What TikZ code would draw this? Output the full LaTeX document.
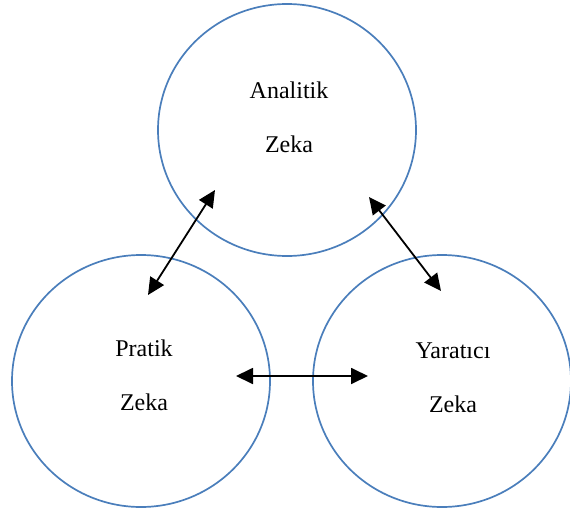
\documentclass[tikz,border=0pt]{standalone}
\usepackage{fontspec}
\setmainfont{Liberation Serif}
\usetikzlibrary{arrows.meta,shapes.geometric}
\definecolor{ringblue}{HTML}{4A7EBB}
\tikzset{
  ring/.style={draw=ringblue, line width=1.7pt, ellipse, minimum width=258pt, minimum height=252pt, inner sep=0pt},
  lbl/.style={anchor=base, font=\fontsize{24}{28}\selectfont, inner sep=0pt},
  link/.style={line width=1.8pt, {Triangle[length=17pt,width=16pt]}-{Triangle[length=17pt,width=16pt]}}
}
\begin{document}
\begin{tikzpicture}[x=1pt,y=-1pt]
\useasboundingbox (0,0) rectangle (570,511);
\node[ring] (top) at (287,130) {};
\node[ring] (left) at (141,381) {};
\node[ring] (right) at (442,381) {};
\node[lbl] (t1) at (289,98) {Analitik};
\node[lbl] (t2) at (289,152) {Zeka};
\node[lbl] (l1) at (144,356) {Pratik};
\node[lbl] (l2) at (144,410) {Zeka};
\node[lbl] (r1) at (453,358) {Yaratıcı};
\node[lbl] (r2) at (453,412) {Zeka};
\coordinate (a1) at (215,190);
\coordinate (a2) at (148,295);
\coordinate (b1) at (369,197);
\coordinate (b2) at (441,291);
\coordinate (c1) at (236,376);
\coordinate (c2) at (368,376);
\draw[link] (a1) -- (a2);
\draw[link] (b1) -- (b2);
\draw[link] (c1) -- (c2);
\end{tikzpicture}
\end{document}
